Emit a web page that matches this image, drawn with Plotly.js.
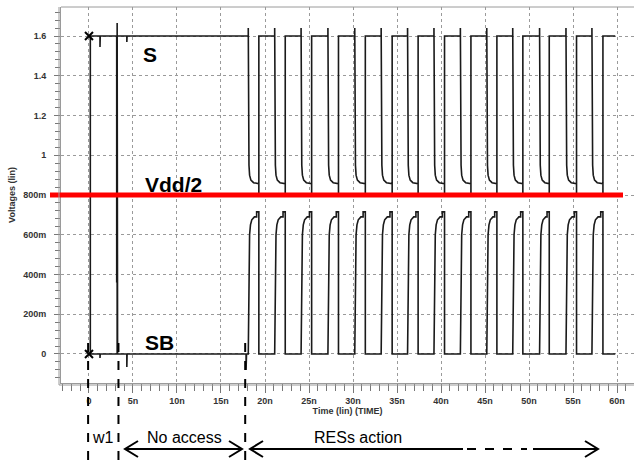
<!DOCTYPE html>
<html>
<head>
<meta charset="utf-8">
<script src="https://cdn.plot.ly/plotly-3.0.1.min.js"></script>
<style>html,body{margin:0;padding:0;background:#fff;}#chart{width:634px;height:461px;}</style>
</head>
<body>
<div id="chart"></div>
<script>
// ---- tick labels ----
const xTickVals = [0, 5, 10, 15, 20, 25, 30, 35, 40, 45, 50, 55, 60];
const xTickText = ['0', '5n', '10n', '15n', '20n', '25n', '30n', '35n', '40n', '45n', '50n', '55n', '60n'];
const yTickVals = [0, 0.2, 0.4, 0.6, 0.8, 1, 1.2, 1.4, 1.6];
const yTickText = ['0', '200m', '400m', '600m', '800m', '1', '1.2', '1.4', '1.6'];

// ---- write phase (t in ns, V in volts) ----
const sInitT  = [0, 0.15, 0.15, 1.25, 1.25, 1.28, 3.15, 3.15, 3.2, 4.3, 4.3, 4.33];
const sInitV  = [0, 0, 1.6, 1.6, 1.545, 1.6, 1.6, 0.36, 1.6, 1.6, 1.57, 1.6];
const sbInitT = [0, 1.25, 1.25, 1.28, 3.2, 3.2, 3.25, 4.3, 4.3, 4.33, 17.85, 17.85, 17.9];
const sbInitV = [0, 0, -0.02, 0, 0, 1.665, 0, 0, -0.065, 0, 0, -0.08, 0];

// ---- RESs action cycles: edge times (ns) ----
const fallTimes = [18.1, 21.1, 24.1, 27.15, 30.2, 33.2, 36.2, 39.2, 42.2, 45.2, 48.15, 51.2, 54.2, 57.15];
const riseTimes = [19.3, 22.3, 25.3, 28.35, 31.4, 34.45, 37.4, 40.4, 43.4, 46.35, 49.3, 52.3, 55.4, 58.4];

// edge shapes (offset from edge in ns, level in V)
const sFallDt  = [0, 0, 0.08, 0.15, 0.3, 0.6];
const sFallV   = [1.6, 1.64, 0.95, 0.9, 0.875, 0.862];
const sLowEnd  = 0.857;
const vMid     = 0.8;
const sHigh    = 1.6;
const sbRiseDt = [0, 0.15, 0.25, 0.4, 0.7];
const sbRiseV  = [0, 0.6, 0.65, 0.675, 0.69];
const sbBumpDt = 0.25;
const sbBumpV  = 0.715;
const sbLow    = 0;
const tEnd     = 59.8;

// build series from the read values
const sT = sInitT.slice(), sV = sInitV.slice();
const sbT = sbInitT.slice(), sbV = sbInitV.slice();
fallTimes.forEach(function (tf, i) {
  const tr = riseTimes[i];
  sFallDt.forEach(function (d, k) { sT.push(tf + d); sV.push(sFallV[k]); });
  sT.push(tr, tr, tr); sV.push(sLowEnd, vMid, sHigh);
  sbRiseDt.forEach(function (d, k) { sbT.push(tf + d); sbV.push(sbRiseV[k]); });
  sbT.push(tr - sbBumpDt, tr - sbBumpDt, tr, tr);
  sbV.push(sbRiseV[sbRiseV.length - 1], sbBumpV, sbBumpV, sbLow);
});
sT.push(tEnd); sV.push(sHigh);
sbT.push(tEnd); sbV.push(sbLow);

const cursorT = [0, 0];
const cursorV = [1.6, 0];

// ---- geometry helpers (layout only) ----
const W = 634, H = 461;
const M = {l: 61, r: 0, t: 7, b: 78};
const PW = W - M.l - M.r, PH = H - M.t - M.b;
const px = x => (x - M.l) / PW;
const py = y => (M.t + PH - y) / PH;
const xr = [-3.18, 61.93];
const yr = [-0.146, 1.746];
const tx = t => (t - xr[0]) / (xr[1] - xr[0]);
const vy = v => (v - yr[0]) / (yr[1] - yr[0]);

const FONT = 'Arial, "Liberation Sans", sans-serif';
const lineCol = '#1a1a1a';

const traces = [
  {x: sT, y: sV, mode: 'lines', line: {color: lineCol, width: 1.6}, hoverinfo: 'skip', name: 'S'},
  {x: sbT, y: sbV, mode: 'lines', line: {color: lineCol, width: 1.6}, hoverinfo: 'skip', name: 'SB'},
  {x: cursorT, y: cursorV, mode: 'markers', marker: {symbol: 'x-thin', size: 8, color: '#000', line: {width: 2, color: '#000'}}, hoverinfo: 'skip'}
];

// annotation line positions (ns)
const markTimes = [-0.1, 3.35, 17.75];

const shapes = [];
// red Vdd/2 line
shapes.push({type: 'line', xref: 'paper', yref: 'y', x0: px(50), x1: px(623), y0: 0.8, y1: 0.8,
  line: {color: '#ff0000', width: 5}, layer: 'above'});
// double frame (outer lines)
shapes.push({type: 'line', xref: 'paper', yref: 'paper', x0: px(59), x1: px(59), y0: py(385), y1: 1,
  line: {color: '#9a9a9a', width: 1}});
shapes.push({type: 'line', xref: 'paper', yref: 'paper', x0: px(59), x1: 1, y0: py(385), y1: py(385),
  line: {color: '#9a9a9a', width: 1}});
shapes.push({type: 'line', xref: 'paper', yref: 'paper', x0: 0, x1: 1, y0: 1, y1: 1,
  line: {color: '#9a9a9a', width: 1}});
// vertical dashed markers
markTimes.forEach(function (t) {
  shapes.push({type: 'line', xref: 'paper', yref: 'paper', x0: tx(t), x1: tx(t), y0: vy(0.055), y1: py(461),
    line: {color: '#000', width: 2, dash: 'dash'}, layer: 'above'});
});
// arrows
const blk = {color: '#000', width: 2};
function hline(x0, x1, y, dash) {
  shapes.push({type: 'line', xref: 'paper', yref: 'paper', x0: px(x0), x1: px(x1), y0: py(y), y1: py(y),
    line: {color: '#000', width: 2, dash: dash || 'solid'}});
}
function head(xTip, y, dir) {
  const xb = xTip - dir * 13;
  shapes.push({type: 'path', xref: 'paper', yref: 'paper',
    path: 'M' + px(xb) + ',' + py(y - 8) + ' L' + px(xTip) + ',' + py(y) + ' L' + px(xb) + ',' + py(y + 8),
    line: blk});
}
hline(126, 241, 449); head(125, 449, -1); head(242, 449, 1);
hline(251, 463, 449); hline(467, 527, 449, 'dash'); hline(533, 597, 449);
head(250, 449, -1); head(598, 449, 1);

const bigLbl = {family: FONT, size: 21, color: '#000', weight: 'bold'};
const smlLbl = {family: FONT, size: 16, color: '#000'};
function ann(text, x, y, font) {
  return {text: text, xref: 'paper', yref: 'paper', x: px(x), y: py(y), xanchor: 'center', yanchor: 'middle',
    showarrow: false, font: font};
}
const annotations = [
  ann('S', 150, 54.5, bigLbl),
  ann('Vdd/2', 173.5, 184, bigLbl),
  ann('SB', 159, 342.5, bigLbl),
  ann('w1', 103, 438, smlLbl),
  ann('No access', 184.5, 437, smlLbl),
  ann('RESs action', 357.5, 437, smlLbl)
];

const tickFont = {family: FONT, size: 9, color: '#333', weight: 'bold'};
const layout = {
  width: W, height: H,
  margin: M,
  paper_bgcolor: '#fff', plot_bgcolor: '#fff',
  showlegend: false,
  font: {family: FONT},
  xaxis: {
    range: xr, tickmode: 'array', tickvals: xTickVals, ticktext: xTickText,
    showgrid: true, gridcolor: '#9a9a9a', griddash: 'dot', gridwidth: 1,
    zeroline: false, showline: true, linecolor: '#9a9a9a', linewidth: 1,
    ticks: 'outside', ticklen: 9, tickcolor: '#777', tickwidth: 1,
    minor: {tick0: 0, dtick: 1, ticks: 'outside', ticklen: 7, tickcolor: '#777', showgrid: false},
    tickfont: tickFont, ticklabelstandoff: 0,
    title: {text: 'Time (lin) (TIME)', font: {family: FONT, size: 9, color: '#333', weight: 'bold'}, standoff: 2},
    automargin: false, fixedrange: true
  },
  yaxis: {
    range: yr, tickmode: 'array', tickvals: yTickVals, ticktext: yTickText,
    showgrid: true, gridcolor: '#9a9a9a', griddash: 'dot', gridwidth: 1,
    zeroline: false, showline: true, linecolor: '#9a9a9a', linewidth: 1,
    ticks: 'outside', ticklen: 6, tickcolor: '#777', tickwidth: 1,
    minor: {tick0: 0, dtick: 0.04, ticks: 'outside', ticklen: 5, tickcolor: '#777', showgrid: false},
    tickfont: tickFont, ticklabelstandoff: 6,
    title: {text: 'Voltages (lin)', font: {family: FONT, size: 9, color: '#333', weight: 'bold'}, standoff: 6},
    automargin: false, fixedrange: true
  },
  shapes: shapes,
  annotations: annotations
};

Plotly.newPlot('chart', traces, layout, {displayModeBar: false, staticPlot: true});
</script>
</body>
</html>
